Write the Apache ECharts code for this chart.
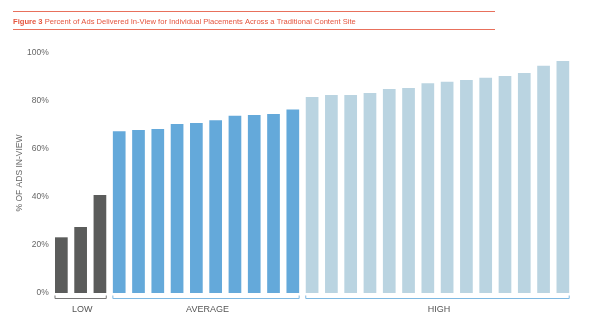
<!DOCTYPE html>
<html>
<head>
<meta charset="utf-8">
<script src="https://cdn.jsdelivr.net/npm/echarts@6/dist/echarts.min.js"></script>
<style>html,body{margin:0;padding:0;background:#fff;}#c{width:600px;height:324px;}</style>
</head>
<body>
<div id="c"></div>
<script>
const lowValues = [23.2, 27.5, 40.8];
const averageValues = [67.4, 67.9, 68.3, 70.4, 70.8, 72.0, 73.9, 74.2, 74.6, 76.5];
const highValues = [81.7, 82.5, 82.5, 83.3, 85.0, 85.4, 87.4, 88.0, 88.75, 89.7, 90.4, 91.7, 94.7, 96.7];
const groupNames = ['LOW', 'AVERAGE', 'HIGH'];
const groupColors = ['#5b5c5b', '#64a9da', '#bad4e1'];
const bracketColors = ['#777777', '#7fb9e2', '#7fb9e2'];
const yTicks = [0, 20, 40, 60, 80, 100];

const groups = [lowValues, averageValues, highValues];
const categories = [];
const data = [];
groups.forEach((g, gi) => {
  g.forEach((v, i) => {
    categories.push(groupNames[gi] + ' ' + (i + 1));
    data.push({ value: v, itemStyle: { color: groupColors[gi] } });
  });
});

const chart = echarts.init(document.getElementById('c'), null, { renderer: 'canvas' });
const BAR_W = 12.7;
chart.setOption({
  animation: false,
  backgroundColor: '#ffffff',
  title: {
    text: '{b|Figure 3} Percent of Ads Delivered In-View for Individual Placements Across a Traditional Content Site',
    left: 8, top: 13,
    textStyle: {
      fontFamily: 'Liberation Sans, Arial',
      fontSize: 7.6, fontWeight: 'normal', color: '#e4543d',
      rich: { b: { fontWeight: 'bold', fontSize: 7.6, color: '#e4543d', fontFamily: 'Liberation Sans, Arial' } }
    }
  },
  grid: { left: 51.7, right: 27.5, top: 53, bottom: 31, containLabel: false },
  xAxis: {
    type: 'category', data: categories,
    axisLine: { show: false }, axisTick: { show: false }, axisLabel: { show: false }
  },
  yAxis: {
    type: 'value', min: 0, max: 100, interval: 20,
    name: '% OF ADS IN-VIEW', nameLocation: 'middle', nameGap: 28, nameMoveOverlap: false,
    nameTextStyle: { color: '#666', fontSize: 8.5, fontFamily: 'Liberation Sans, Arial' },
    axisLine: { show: false }, axisTick: { show: false }, splitLine: { show: false },
    axisLabel: { formatter: v => yTicks.includes(v) ? v + '%' : '', color: '#666', fontSize: 8.5, margin: 3, fontFamily: 'Liberation Sans, Arial' }
  },
  series: [{
    type: 'bar', data: data, barWidth: BAR_W
  }]
});

// Decorations: title rules and group brackets computed from the axis scale
const graphics = [
  { type: 'line', shape: { x1: 13, y1: 11.5, x2: 495, y2: 11.5 }, style: { stroke: '#e8705c', lineWidth: 1 } },
  { type: 'line', shape: { x1: 13, y1: 29.5, x2: 495, y2: 29.5 }, style: { stroke: '#e8705c', lineWidth: 1 } }
];
let start = 0;
const yBase = chart.convertToPixel({ yAxisIndex: 0 }, 0);
groups.forEach((g, gi) => {
  const x1 = chart.convertToPixel({ xAxisIndex: 0 }, categories[start]) - BAR_W / 2;
  const x2 = chart.convertToPixel({ xAxisIndex: 0 }, categories[start + g.length - 1]) + BAR_W / 2;
  const yb = yBase + 5.5;
  graphics.push({
    type: 'polyline',
    shape: { points: [[x1, yb - 3], [x1, yb], [x2, yb], [x2, yb - 3]] },
    style: { stroke: bracketColors[gi], lineWidth: 1, fill: null }
  });
  graphics.push({
    type: 'text',
    x: (x1 + x2) / 2 + 1.5, y: yb + 11,
    style: { text: groupNames[gi], fill: '#555', font: '9px Liberation Sans, Arial', align: 'center', verticalAlign: 'middle' }
  });
  start += g.length;
});
chart.setOption({ graphic: graphics });
</script>
</body>
</html>
